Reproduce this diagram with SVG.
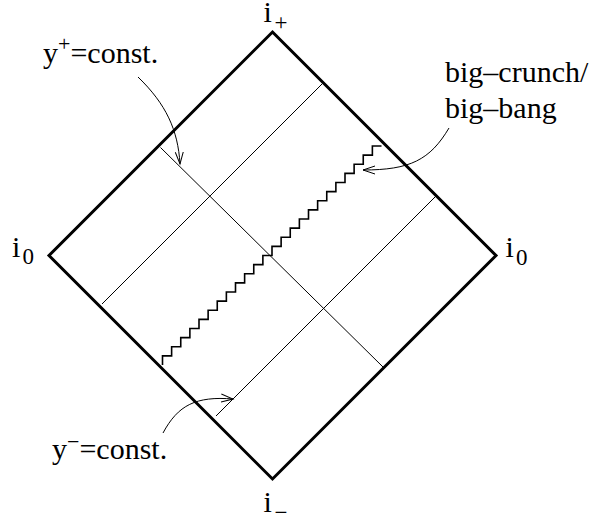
<svg xmlns="http://www.w3.org/2000/svg" width="594" height="525" viewBox="0 0 594 525">
<style>
text{font-family:"Liberation Serif","Times New Roman",serif;fill:#000}
.lbl{font-size:30px}
.sub{font-size:23px}
.sup{font-size:22px}
.edge{fill:none;stroke:#000;stroke-width:3;stroke-linejoin:miter}
.thin{fill:none;stroke:#000;stroke-width:1}
.zig{fill:none;stroke:#000;stroke-width:1.6}
.arr{fill:none;stroke:#000;stroke-width:1;marker-end:url(#ah)}
</style>
<defs>
<marker id="ah" viewBox="-12 -6 14 12" refX="0" refY="0" markerWidth="14" markerHeight="12" markerUnits="userSpaceOnUse" orient="auto">
<path d="M-12,-4 L0,0 L-12,4" fill="none" stroke="#000" stroke-width="1"/>
</marker>
</defs>
<g id="diamond">
<path class="edge" d="M272.5,32 L496,255.5 L272.5,479 L49,255.5 Z"/>
</g>
<g id="coordinate-lines">
<line class="thin" x1="322.5" y1="83.5" x2="102" y2="304"/>
<line class="thin" x1="436" y1="196" x2="216" y2="416"/>
<line class="thin" x1="160.5" y1="147.5" x2="383" y2="367"/>
</g>
<g id="big-crunch-line">
<path class="zig" d="M162.5,365 v-9.125h9.125 v-9.125h9.125 v-9.125h9.125 v-9.125h9.125 v-9.125h9.125 v-9.125h9.125 v-9.125h9.125 v-9.125h9.125 v-9.125h9.125 v-9.125h9.125 v-9.125h9.125 v-9.125h9.125 v-9.125h9.125 v-9.125h9.125 v-9.125h9.125 v-9.125h9.125 v-9.125h9.125 v-9.125h9.125 v-9.125h9.125 v-9.125h9.125 v-9.125h9.125 v-9.125h9.125 v-9.125h9.125 v-9.125h9.125"/>
</g>
<g id="connectors">
<path class="arr" d="M138,77 C166,104 178,130 180,164"/>
<path class="arr" d="M449,128 C430,160 410,170 363,170"/>
<path class="arr" d="M163,433 C178,405 196,396 233,399"/>
</g>
<g id="label-i-plus">
<text class="lbl" x="263.5" y="22">i</text><text class="sub" x="274.5" y="30">+</text>
</g>
<g id="label-i-minus">
<text class="lbl" x="263.5" y="512">i</text><text class="sub" x="274.5" y="520">−</text>
</g>
<g id="label-i0-left">
<text class="lbl" x="12" y="257">i</text><text class="sub" x="22.5" y="264">0</text>
</g>
<g id="label-i0-right">
<text class="lbl" x="505.5" y="257">i</text><text class="sub" x="516" y="265">0</text>
</g>
<g id="label-yplus">
<text class="lbl" x="43" y="63">y<tspan class="sup" dy="-12">+</tspan><tspan dy="12">=const.</tspan></text>
</g>
<g id="label-yminus">
<text class="lbl" x="52" y="459">y<tspan class="sup" dy="-10">−</tspan><tspan dy="10">=const.</tspan></text>
</g>
<g id="label-bigcrunch">
<text class="lbl" x="445" y="82">big–crunch/</text>
<text class="lbl" x="445" y="118">big–bang</text>
</g>
</svg>
